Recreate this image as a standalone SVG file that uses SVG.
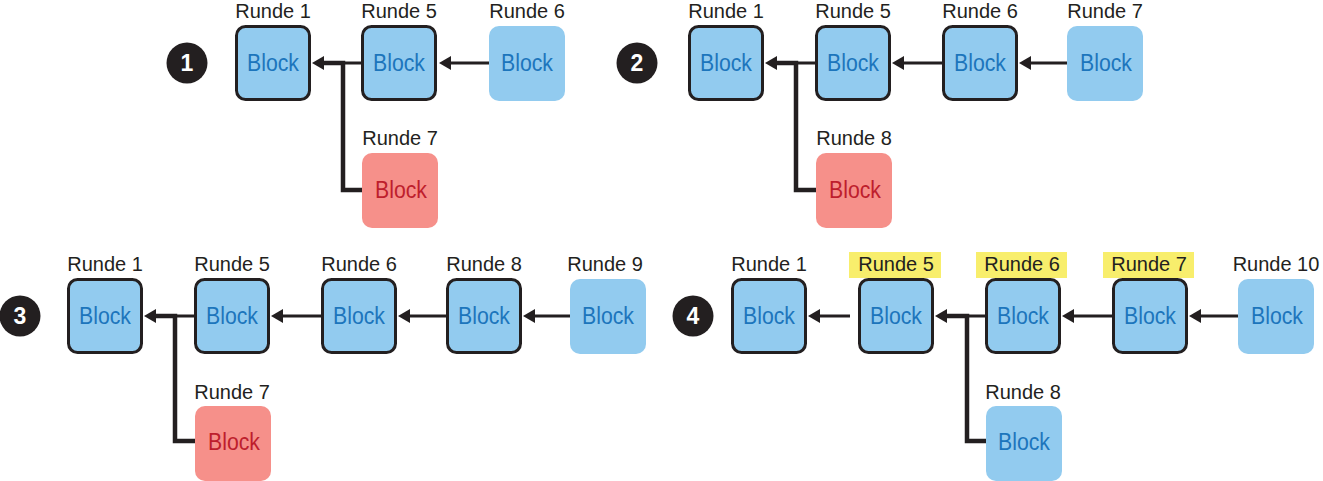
<svg xmlns="http://www.w3.org/2000/svg" width="1323" height="481" viewBox="0 0 1323 481">
<defs>
<style>
.lbl{font-family:"Liberation Sans",Arial,sans-serif;font-size:20px;fill:#231f20;text-anchor:middle}
.bt{font-family:"Liberation Sans",Arial,sans-serif;font-size:23px;text-anchor:middle}
.bt.b{fill:#1c75bc}.bt.r{fill:#be1e2d}
.ob{fill:#92cbef;stroke:#231f20;stroke-width:3}
.pb{fill:#92cbef}
.pr{fill:#f6908a}
.num{font-family:"Liberation Sans",Arial,sans-serif;font-size:23px;font-weight:bold;fill:#fff;text-anchor:middle}
.hl{fill:#f8ee6c}
.ln{fill:none;stroke:#231f20;stroke-width:3;marker-end:url(#ah)}
.br{fill:none;stroke:#231f20;stroke-width:4.5}
</style>
<marker id="ah" viewBox="0 0 12 14" refX="2" refY="7" markerWidth="12" markerHeight="14" markerUnits="userSpaceOnUse" orient="auto">
<path d="M0,0 L12,7 L0,14 Z" fill="#231f20"/>
</marker>
</defs>

<g id="connectors">
<path class="ln" d="M489,63 H449"/>
<path class="br" d="M362,190 H343 V63 H322"/>
<path class="ln" d="M361,63 H322"/>
<path class="ln" d="M1067,63 H1029"/>
<path class="ln" d="M942,63 H902"/>
<path class="br" d="M816,190 H796 V63 H775"/>
<path class="ln" d="M815,63 H775"/>
<path class="ln" d="M570,316 H533"/>
<path class="ln" d="M446,316 H408"/>
<path class="ln" d="M321,316 H281"/>
<path class="br" d="M195,441 H175 V316 H154"/>
<path class="ln" d="M194,316 H154"/>
<path class="ln" d="M1238,316 H1199"/>
<path class="ln" d="M1112,316 H1072"/>
<path class="br" d="M986,441 H967 V316 H945"/>
<path class="ln" d="M985,316 H945"/>
<path class="ln" d="M850,316 H818"/>
</g>

<g id="m1"><circle cx="187" cy="63" r="20.5" fill="#231f20"/><text class="num" x="187" y="71">1</text></g>
<g id="m2"><circle cx="637" cy="63" r="20.5" fill="#231f20"/><text class="num" x="637" y="71">2</text></g>
<g id="m3"><circle cx="20" cy="316" r="20.5" fill="#231f20"/><text class="num" x="20" y="324">3</text></g>
<g id="m4"><circle cx="693" cy="316" r="20.5" fill="#231f20"/><text class="num" x="693" y="324">4</text></g>

<g id="p1-r1"><text class="lbl" x="273" y="18">Runde 1</text><rect class="ob" x="236.5" y="26.5" width="73" height="73" rx="9"/><text class="bt b" x="273" y="71" textLength="52" lengthAdjust="spacingAndGlyphs">Block</text></g>
<g id="p1-r5"><text class="lbl" x="399" y="18">Runde 5</text><rect class="ob" x="362.5" y="26.5" width="73" height="73" rx="9"/><text class="bt b" x="399" y="71" textLength="52" lengthAdjust="spacingAndGlyphs">Block</text></g>
<g id="p1-r6"><text class="lbl" x="527" y="18">Runde 6</text><rect class="pb" x="489" y="26" width="76" height="75" rx="10"/><text class="bt b" x="527" y="71" textLength="52" lengthAdjust="spacingAndGlyphs">Block</text></g>
<g id="p1-r7"><text class="lbl" x="400" y="145">Runde 7</text><rect class="pr" x="362" y="153" width="76" height="75" rx="10"/><text class="bt r" x="401" y="198" textLength="52" lengthAdjust="spacingAndGlyphs">Block</text></g>

<g id="p2-r1"><text class="lbl" x="726" y="18">Runde 1</text><rect class="ob" x="689.5" y="26.5" width="73" height="73" rx="9"/><text class="bt b" x="726" y="71" textLength="52" lengthAdjust="spacingAndGlyphs">Block</text></g>
<g id="p2-r5"><text class="lbl" x="853" y="18">Runde 5</text><rect class="ob" x="816.5" y="26.5" width="73" height="73" rx="9"/><text class="bt b" x="853" y="71" textLength="52" lengthAdjust="spacingAndGlyphs">Block</text></g>
<g id="p2-r6"><text class="lbl" x="980" y="18">Runde 6</text><rect class="ob" x="943.5" y="26.5" width="73" height="73" rx="9"/><text class="bt b" x="980" y="71" textLength="52" lengthAdjust="spacingAndGlyphs">Block</text></g>
<g id="p2-r7"><text class="lbl" x="1105" y="18">Runde 7</text><rect class="pb" x="1067" y="26" width="76" height="75" rx="10"/><text class="bt b" x="1106" y="71" textLength="52" lengthAdjust="spacingAndGlyphs">Block</text></g>
<g id="p2-r8"><text class="lbl" x="854" y="145">Runde 8</text><rect class="pr" x="816" y="153" width="76" height="75" rx="10"/><text class="bt r" x="855" y="198" textLength="52" lengthAdjust="spacingAndGlyphs">Block</text></g>

<g id="p3-r1"><text class="lbl" x="105" y="271">Runde 1</text><rect class="ob" x="68.5" y="279.5" width="73" height="73" rx="9"/><text class="bt b" x="105" y="324" textLength="52" lengthAdjust="spacingAndGlyphs">Block</text></g>
<g id="p3-r5"><text class="lbl" x="232" y="271">Runde 5</text><rect class="ob" x="195.5" y="279.5" width="73" height="73" rx="9"/><text class="bt b" x="232" y="324" textLength="52" lengthAdjust="spacingAndGlyphs">Block</text></g>
<g id="p3-r6"><text class="lbl" x="359" y="271">Runde 6</text><rect class="ob" x="322.5" y="279.5" width="73" height="73" rx="9"/><text class="bt b" x="359" y="324" textLength="52" lengthAdjust="spacingAndGlyphs">Block</text></g>
<g id="p3-r8"><text class="lbl" x="484" y="271">Runde 8</text><rect class="ob" x="447.5" y="279.5" width="73" height="73" rx="9"/><text class="bt b" x="484" y="324" textLength="52" lengthAdjust="spacingAndGlyphs">Block</text></g>
<g id="p3-r9"><text class="lbl" x="605" y="271">Runde 9</text><rect class="pb" x="570" y="279" width="76" height="75" rx="10"/><text class="bt b" x="608" y="324" textLength="52" lengthAdjust="spacingAndGlyphs">Block</text></g>
<g id="p3-r7"><text class="lbl" x="232" y="399">Runde 7</text><rect class="pr" x="195" y="406" width="76" height="75" rx="10"/><text class="bt r" x="234" y="450" textLength="52" lengthAdjust="spacingAndGlyphs">Block</text></g>

<g id="p4-r1"><text class="lbl" x="769" y="271">Runde 1</text><rect class="ob" x="732.5" y="279.5" width="73" height="73" rx="9"/><text class="bt b" x="769" y="324" textLength="52" lengthAdjust="spacingAndGlyphs">Block</text></g>
<g id="p4-r5"><rect class="hl" x="849" y="252" width="92" height="26"/><text class="lbl" x="896" y="271">Runde 5</text><rect class="ob" x="859.5" y="279.5" width="73" height="73" rx="9"/><text class="bt b" x="896" y="324" textLength="52" lengthAdjust="spacingAndGlyphs">Block</text></g>
<g id="p4-r6"><rect class="hl" x="976" y="252" width="91" height="26"/><text class="lbl" x="1022" y="271">Runde 6</text><rect class="ob" x="986.5" y="279.5" width="73" height="73" rx="9"/><text class="bt b" x="1023" y="324" textLength="52" lengthAdjust="spacingAndGlyphs">Block</text></g>
<g id="p4-r7"><rect class="hl" x="1103" y="252" width="91" height="26"/><text class="lbl" x="1149" y="271">Runde 7</text><rect class="ob" x="1113.5" y="279.5" width="73" height="73" rx="9"/><text class="bt b" x="1150" y="324" textLength="52" lengthAdjust="spacingAndGlyphs">Block</text></g>
<g id="p4-r10"><text class="lbl" x="1276" y="271">Runde 10</text><rect class="pb" x="1238" y="279" width="76" height="75" rx="10"/><text class="bt b" x="1277" y="324" textLength="52" lengthAdjust="spacingAndGlyphs">Block</text></g>
<g id="p4-r8"><text class="lbl" x="1023" y="399">Runde 8</text><rect class="pb" x="986" y="406" width="76" height="75" rx="10"/><text class="bt b" x="1024" y="450" textLength="52" lengthAdjust="spacingAndGlyphs">Block</text></g>
</svg>
